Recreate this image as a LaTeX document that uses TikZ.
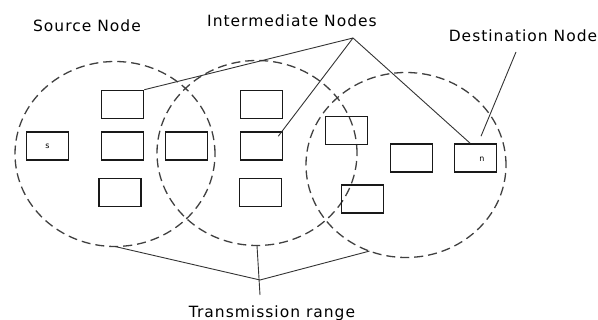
\documentclass[tikz,border=0pt]{standalone}
\usepackage{fontspec}
\setmainfont{DejaVu Sans}
\newfontfamily\spacedfont[LetterSpace=6.5]{DejaVu Sans}
\usetikzlibrary{shapes.geometric,calc}
\begin{document}
\begin{tikzpicture}[x=1pt,y=-1pt,
    txrange/.style={ellipse,draw=black!75,line width=1.3pt,dash pattern=on 9pt off 5pt,minimum width=200pt,minimum height=185pt,inner sep=0pt,outer sep=0pt},
    nodebox/.style={draw=black!90,line width=1.5pt,minimum width=42pt,minimum height=28pt,inner sep=0pt},
    pointer/.style={draw=black!80,line width=0.9pt},
    lbl/.style={font=\spacedfont\fontsize{15.5}{18}\selectfont,inner sep=0pt}]
        \useasboundingbox(0,0)rectangle(598,320);
        \node[txrange](r1)at(115,154){};
        \node[txrange](r2)at(257,153){};
        \node[txrange](r3)at(406,165){};
        \node[nodebox,font=\fontsize{8}{9}\selectfont](src)at(47.5,146){s};
        \foreach \n/\x/\y in {a1/122.5/104.5,a2/122.5/146,a3/120/192.5,m1/186.5/146,b1/261.5/104.5,b2/261.5/146,b3/260.5/192.5,d1/346.5/130.5,d2/411.5/158,d3/362.5/199,dst/475.5/158}
        \node[nodebox](\n)at(\x,\y){};
        \node[font=\fontsize{8}{9}\selectfont,inner sep=0pt](ntext)at($(dst)+(6.5,1.5)$){n};
        \node[lbl](srclab)at(87,26){Source Node};
        \node[lbl](imlab)at(292,21){Intermediate Nodes};
        \node[lbl](dstlab)at(523,36){Destination Node};
        \node[lbl](trlab)at(272,313){Transmission range};
        \coordinate(imid)at(353,38);
        \coordinate(dmid)at(516,52);
        \coordinate(tmid)at(260,280);
        \coordinate(tend)at(260,295);
        \draw[pointer](a1.north east)--(imid);
        \draw[pointer]($(b2.north east)+(-5,5)$)--(imid);
        \draw[pointer](imid)--(dst.110);
        \draw[pointer](dmid)--($(dst.north)+(5.5,-7)$);
        \draw[pointer](r1.south)--(tmid)--(r3.247);
        \draw[pointer](r2.south)--(tend);
    \end{tikzpicture}
\end{document}
